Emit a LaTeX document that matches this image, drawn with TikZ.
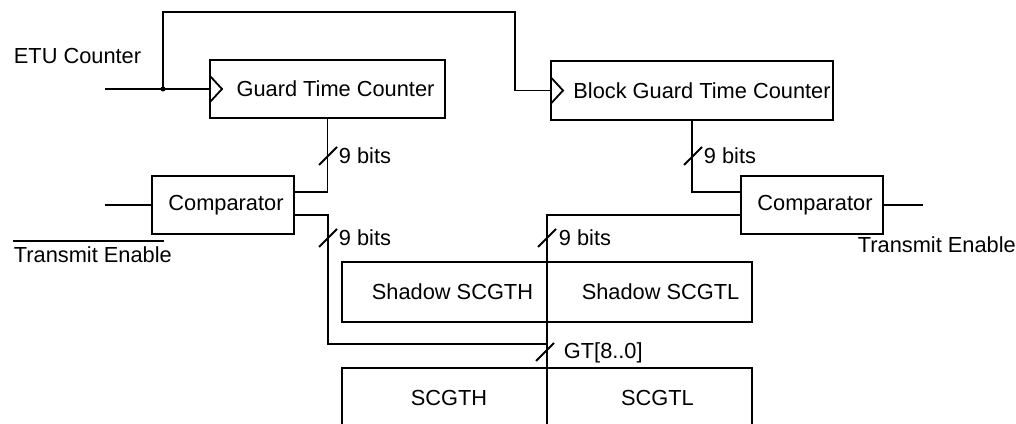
\documentclass[tikz,border=0pt]{standalone}
\usepackage{fontspec}
\setmainfont{Liberation Sans}
\usetikzlibrary{positioning}

\tikzset{
  blk/.style={draw, minimum height=58pt, inner sep=0pt, outer sep=0pt},
  lbl/.style={inner sep=0pt, anchor=base west},
  busmark/.pic={\draw (-9pt,-9pt) -- (9pt,9pt);},
}

\begin{document}
\begin{tikzpicture}[x=1pt,y=-1pt,line width=1.8pt,font=\fontsize{21.8}{26}\selectfont]
\useasboundingbox (0,0) rectangle (1016,423);
\clip (0,0) rectangle (1016,423);

% counters
\node[blk, minimum width=235pt] (gtc) at (327.5,89) {\hspace*{16pt}Guard Time Counter};
\node[blk, minimum width=282pt, minimum height=59pt] (bgtc) at (692,90.5) {\hspace*{20pt}Block Guard Time Counter};
\draw (gtc.west) ++(0,-13) -- ++(12,13) -- ++(-12,13);
\draw (bgtc.west) ++(0,-13) -- ++(12,13) -- ++(-12,13);

% comparators
\node[blk, minimum width=142pt] (cmpA) at (223,205) {\hspace*{6pt}Comparator};
\node[blk, minimum width=142pt] (cmpB) at (812,205) {\hspace*{6pt}Comparator};

% registers
\node[blk, minimum width=205pt, minimum height=60pt] (shH) at (444.5,292) {\hspace*{16pt}Shadow SCGTH};
\node[blk, minimum width=205pt, minimum height=60pt, right=0pt of shH] (shL) {\hspace*{22pt}Shadow SCGTL};
\node[blk, minimum width=205pt, minimum height=60pt, below=46pt of shH] (regH) {\hspace*{9pt}SCGTH};
\node[blk, minimum width=205pt, minimum height=60pt, right=0pt of regH] (regL) {\hspace*{16pt}SCGTL};

% texts
\node[lbl] (etu) at (13,63) {ETU Counter};
\node[lbl] (teA) at (13,262) {Transmit Enable};
\node[lbl] (teB) at (857,252) {Transmit Enable};
\draw ([yshift=4pt]teA.north west) -- ++(151,0);

% wires
\coordinate (etuIn) at (105,89);
\coordinate (jn) at (163,89);
\coordinate (topR) at (515,12);
\draw (etuIn) -- (gtc.west);
\fill (jn) circle (2.5pt);
\draw (jn) |- (topR) |- (bgtc.west);

\draw (gtc.south) |- ([yshift=13pt]cmpA.east);
\draw (bgtc.south) |- ([yshift=13pt]cmpB.west);
\coordinate (inA) at (105,205);
\draw (inA) -- (cmpA.west);
\coordinate (outB) at (923,205);
\draw (cmpB.east) -- (outB);

\coordinate (bend) at (328,344);
\coordinate (gtj) at (547,344);
\coordinate (busEnd) at (547,440);
\draw ([yshift=-10pt]cmpA.east) -| (bend) -- (gtj);
\draw ([yshift=-10pt]cmpB.west) -| (busEnd);

% bus widths
\pic at (328,156) {busmark};
\node[lbl] (bitsA) at (338,163) {9 bits};
\pic at (693,156) {busmark};
\node[lbl] (bitsB) at (703,163) {9 bits};
\pic at (328,238) {busmark};
\node[lbl] (bitsC) at (338,245) {9 bits};
\pic at (547,238) {busmark};
\node[lbl] (bitsD) at (558,245) {9 bits};
\pic at (545,352) {busmark};
\node[lbl] (gtbus) at (563,358) {GT[8..0]};
\end{tikzpicture}
\end{document}
